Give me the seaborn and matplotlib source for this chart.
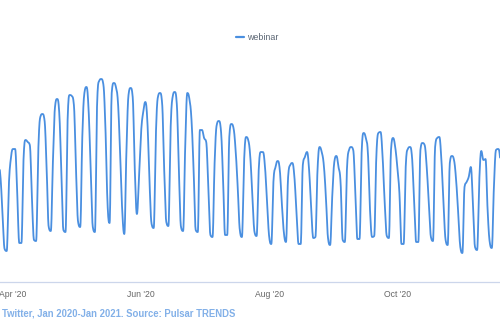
import datetime as dt

import matplotlib
matplotlib.use("Agg")
import matplotlib.dates as mdates
import matplotlib.pyplot as plt
import numpy as np
import pandas as pd
import seaborn as sns

# Daily "webinar" mentions, Mar 23 - Nov 22 2020
march = [110, 118, 118, 106, 69, 33, 31, 96, 124]
april = [133, 133, 89, 39, 39,
         122, 142, 140, 137, 85, 42, 41,
         129, 165, 168, 162, 115, 55, 51,
         120, 175, 183, 170, 112, 52, 50,
         162, 187, 186, 177]
may = [112, 60, 55,
       145, 189, 195, 172, 112, 55, 50,
       175, 201, 203, 198, 155, 79, 59,
       189, 199, 195, 179, 129, 72, 48,
       130, 187, 194, 185, 112, 68, 105]
june = [150, 170, 180, 160, 100, 58, 54,
        145, 185, 189, 179, 112, 60, 56,
        150, 185, 190, 178, 110, 55, 51,
        135, 189, 183, 162, 112, 52, 50,
        152, 152]
july = [144, 140, 95, 47, 45,
        119, 157, 161, 152, 105, 47, 47,
        145, 158, 154, 132, 95, 52, 45,
        119, 145, 142, 125, 85, 50, 46,
        112, 130, 130, 115, 79]
august = [45, 38,
          100, 115, 121, 113, 79, 49, 40,
          105, 117, 119, 105, 69, 38, 38,
          117, 125, 130, 112, 72, 44, 45,
          112, 135, 130, 117, 85, 44, 37,
          85]
september = [120, 126, 115, 99, 42, 40,
             112, 132, 135, 132, 90, 43, 43,
             129, 149, 144, 129, 72, 45, 46,
             125, 149, 150, 125, 79, 46, 44,
             132, 144, 135]
october = [115, 89, 38, 38,
           115, 133, 135, 125, 79, 40, 40,
           132, 139, 137, 115, 79, 45, 41,
           135, 144, 145, 122, 79, 42, 37,
           119, 126, 122, 102, 69, 35]
november = [29,
            95, 100, 105, 115, 79, 35, 32,
            100, 131, 122, 123, 72, 40, 34,
            95, 132, 133, 122, 80, 40, 35]

series_name = "webinar"
tick_dates = ["2020-04-01", "2020-06-01", "2020-08-01", "2020-10-01"]
tick_labels = ["Apr '20", "Jun '20", "Aug '20", "Oct '20"]
caption = "Twitter, Jan 2020-Jan 2021. Source: Pulsar TRENDS"

values = march + april + may + june + july + august + september + october + november
dates = pd.date_range("2020-03-23", periods=len(values), freq="D")
df = pd.DataFrame({"date": dates, "mentions": values})
df["x"] = mdates.date2num(df["date"].dt.to_pydatetime())


def spline_path(x, y, smoothing=1.5, steps=12):
    """Smooth path through the points using clamped cubic Bezier segments."""
    n = len(x)
    left = np.zeros((n, 2))
    right = np.zeros((n, 2))
    left[0] = right[0] = (x[0], y[0])
    left[-1] = right[-1] = (x[-1], y[-1])
    d = smoothing + 1
    for i in range(1, n - 1):
        lx, ly, px, py, nx, ny = x[i - 1], y[i - 1], x[i], y[i], x[i + 1], y[i + 1]
        lcx, lcy = (smoothing * px + lx) / d, (smoothing * py + ly) / d
        rcx, rcy = (smoothing * px + nx) / d, (smoothing * py + ny) / d
        if rcx != lcx:
            corr = (rcy - lcy) * (rcx - px) / (rcx - lcx) + py - rcy
            lcy += corr
            rcy += corr
        if lcy > ly and lcy > py:
            lcy = max(ly, py); rcy = 2 * py - lcy
        elif lcy < ly and lcy < py:
            lcy = min(ly, py); rcy = 2 * py - lcy
        if rcy > ny and rcy > py:
            rcy = max(ny, py); lcy = 2 * py - rcy
        elif rcy < ny and rcy < py:
            rcy = min(ny, py); lcy = 2 * py - rcy
        left[i] = (lcx, lcy)
        right[i] = (rcx, rcy)
    t = np.linspace(0, 1, steps, endpoint=False)[:, None]
    out = []
    for i in range(n - 1):
        p0 = np.array([x[i], y[i]])
        p1 = right[i]
        p2 = left[i + 1]
        p3 = np.array([x[i + 1], y[i + 1]])
        seg = ((1 - t) ** 3) * p0 + 3 * ((1 - t) ** 2) * t * p1 + 3 * (1 - t) * t ** 2 * p2 + t ** 3 * p3
        out.append(seg)
    out.append(np.array([[x[-1], y[-1]]]))
    pts = np.vstack(out)
    return pts[:, 0], pts[:, 1]


sx, sy = spline_path(df["x"].to_numpy(), df["mentions"].to_numpy(dtype=float))
curve = pd.DataFrame({"x": sx, "mentions": sy, "series": series_name})

sns.set_style("white")
plt.rcParams["font.family"] = ["Liberation Sans", "DejaVu Sans"]

fig = plt.figure(figsize=(5, 3.3), dpi=100)
ax = fig.add_axes([0, 48 / 330, 1, 222 / 330])

line_color = "#4a8fe0"
sns.lineplot(data=curve, x="x", y="mentions", hue="series", palette=[line_color],
             sort=False, estimator=None, linewidth=1.3, ax=ax, legend=False)

apr1 = mdates.date2num(dt.datetime(2020, 4, 1))
ax.set_xlim(apr1 - 6.19, apr1 + 231.9)
ax.set_ylim(0, 222)

ax.set_xticks(mdates.date2num(pd.to_datetime(tick_dates).to_pydatetime()))
ax.set_xticklabels(tick_labels)
ax.tick_params(axis="x", length=0, pad=6, labelsize=6.2, labelcolor="#666666")
ax.set_yticks([])
ax.set_xlabel("")
ax.set_ylabel("")
for side in ("left", "right", "top"):
    ax.spines[side].set_visible(False)
ax.spines["bottom"].set_color("#ccd6eb")
ax.spines["bottom"].set_linewidth(0.9)

handle = plt.Line2D([], [], color=line_color, linewidth=1.6)
fig.legend([handle], [series_name], loc="center", bbox_to_anchor=(257 / 500, 1 - 38 / 330),
           frameon=False, fontsize=6.4, handlelength=0.9, handletextpad=0.4,
           labelcolor="#5a6573")

fig.text(2 / 500, 1 - 314 / 330, caption, ha="left", va="center",
         fontsize=6.85, fontweight="bold", color="#82b0e8")

fig.savefig("out.png", dpi=100)
